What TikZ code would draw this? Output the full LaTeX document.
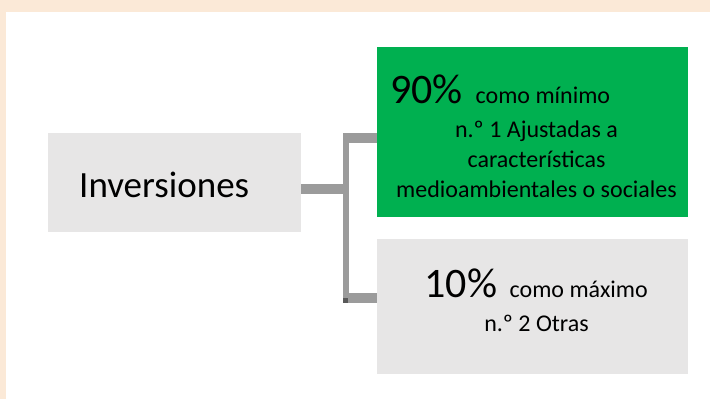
\documentclass[tikz,border=0pt]{standalone}
\usepackage{fontspec}
\setmainfont{Carlito}
\definecolor{bandbeige}{HTML}{FBE9D7}
\definecolor{boxgrey}{HTML}{E7E6E6}
\definecolor{boxgreen}{HTML}{00B050}
\definecolor{linkgrey}{HTML}{9B9B9B}
\definecolor{darkgrey}{HTML}{595959}

\begin{document}
\begin{tikzpicture}[x=1pt, y=-1pt,
  big/.style={font=\fontsize{42}{50}\selectfont, inner sep=0, anchor=base west},
  small/.style={font=\fontsize{24}{29}\selectfont, inner sep=0},
  branch/.style={linkgrey, line width=10pt},
  spine/.style={linkgrey, line width=5.5pt}]
  % frame
  \useasboundingbox (0,0) rectangle (710,399);
  \fill[white] (-5,-5) rectangle (720,410);
  \fill[bandbeige] (-5,-5) rectangle (720,12);
  \fill[bandbeige] (-5,-5) rectangle (6,410);

  % boxes
  \fill[boxgrey] (48,133) rectangle (301,232);
  \node[inner sep=0] (inv) at (174.5,182.5) {};
  \fill[boxgreen] (377,47) rectangle (688,217);
  \node[inner sep=0] (mix) at (532.5,132) {};
  \fill[boxgrey] (377,239) rectangle (688,374);
  \node[inner sep=0] (oth) at (532.5,306.5) {};
  \coordinate (invE) at (301,189);
  \coordinate (mixW) at (377,138);
  \coordinate (othW) at (377,298);

  % connector
  \coordinate (fork) at (348,189);
  \coordinate (top) at (343,138);
  \coordinate (bot) at (343,298);
  \draw[branch] (invE) -- (fork);
  \draw[spine] (345.75,133) -- (345.75,303);
  \draw[branch] (top) -- (mixW);
  \draw[branch] (bot) -- (othW);
  \fill[darkgrey] (343,298) rectangle (348,303);

  % texts
  \node[font=\fontsize{37}{44}\selectfont, inner sep=0, anchor=base west] (invtxt) at (79,197) {Inversiones};

  \node[big] (mixpct) at (390,103) {90\%};
  \node[small, anchor=base west] (mixmin) at (475.5,103) {como mínimo};
  \node[small, anchor=base] (mixl1) at (536.5,137) {n.º 1 Ajustadas a};
  \node[small, anchor=base] (mixl2) at (536.5,167) {características};
  \node[small, anchor=base] (mixl3) at (536.5,197) {medioambientales o sociales};

  \node[big] (othpct) at (424.5,297) {10\%};
  \node[small, anchor=base west] (othmax) at (509.5,297) {como máximo};
  \node[small, anchor=base] (othl1) at (536.5,331) {n.º 2 Otras};
\end{tikzpicture}
\end{document}
